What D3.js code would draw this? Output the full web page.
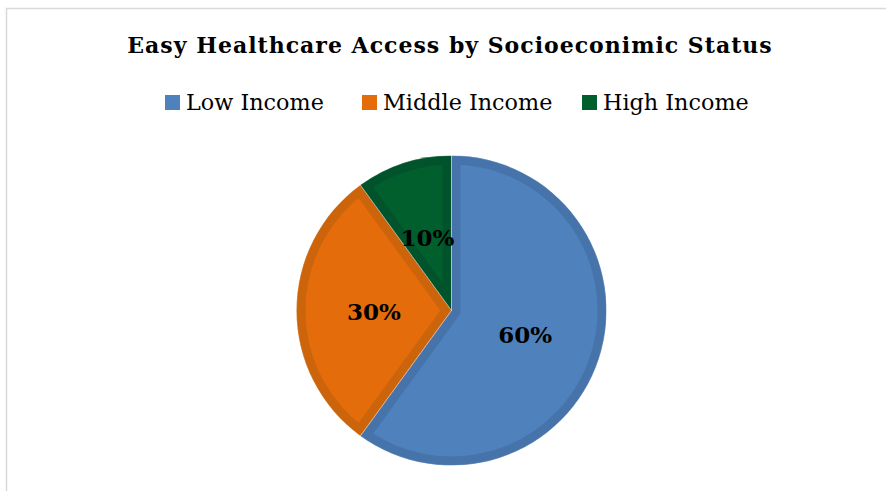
<!DOCTYPE html>
<html>
<head>
<meta charset="utf-8">
<script src="https://cdn.jsdelivr.net/npm/d3@7/dist/d3.min.js"></script>
<style>
  body { margin: 0; background: #fff; }
  svg { display: block; }
  .title { font-family: "DejaVu Serif", serif; font-weight: bold; font-size: 22px; letter-spacing: 1px; }
  .legend text { font-family: "DejaVu Serif", serif; font-size: 22.3px; }
  .label { font-family: "DejaVu Serif", serif; font-weight: bold; font-size: 23px; }
</style>
</head>
<body>
<div class="wrapper"></div>
<script>
var categories = ["Low Income", "Middle Income", "High Income"];
var values = [60, 30, 10];
var labels = ["60%", "30%", "10%"];
var fills = ["#4f81bd", "#e46c0a", "#005f2d"];
var borders = ["#4673aa", "#cc640c", "#00532a"];

var WIDTH = 886,
	HEIGHT = 491,
	CX = 451.5,
	CY = 310.5,
	RADIUS = 155,
	BORDER = 9;

var svg = d3.select(".wrapper")
	.append("svg")
		.attr("width", WIDTH)
		.attr("height", HEIGHT);

// chart area frame
svg.append("path")
	.attr("d", "M6.5," + HEIGHT + "V8.5H" + WIDTH)
	.attr("fill", "none")
	.attr("stroke", "#d9d9d9")
	.attr("stroke-width", 1.5);

svg.append("text")
	.attr("class", "title")
	.attr("x", 450)
	.attr("y", 52.5)
	.attr("text-anchor", "middle")
	.text("Easy Healthcare Access by Socioeconimic Status");

// legend
var legendX = [165, 362, 582];
var legend = svg.append("g").attr("class", "legend")
	.selectAll("g")
	.data(categories)
	.enter()
	.append("g")
		.attr("transform", function(d, i) {return "translate(" + legendX[i] + ",95)";});

legend.append("rect")
	.attr("width", 15)
	.attr("height", 15)
	.attr("fill", function(d, i) {return fills[i];});

legend.append("text")
	.attr("x", 21)
	.attr("y", 15)
	.text(function(d) {return d;});

// pie
var pie = d3.pie().sort(null).value(function(d) {return d;});
var arcs = pie(values);

var arc = d3.arc().innerRadius(0).outerRadius(RADIUS);

var g = svg.append("g")
	.attr("transform", "translate(" + CX + "," + CY + ")");

var defs = svg.append("defs");
defs.selectAll("clipPath")
	.data(arcs)
	.enter()
	.append("clipPath")
		.attr("id", function(d, i) {return "slice-" + i;})
	.append("path")
		.attr("d", arc);

g.selectAll(".slice")
	.data(arcs)
	.enter()
	.append("path")
		.attr("class", "slice")
		.attr("d", arc)
		.attr("fill", function(d, i) {return fills[i];})
		.attr("stroke", function(d, i) {return borders[i];})
		.attr("stroke-width", BORDER * 2)
		.attr("stroke-linejoin", "miter")
		.attr("clip-path", function(d, i) {return "url(#slice-" + i + ")";});

// thin light seam between slices
g.selectAll(".seam")
	.data(arcs)
	.enter()
	.append("path")
		.attr("class", "seam")
		.attr("d", arc)
		.attr("fill", "none")
		.attr("stroke", "#ffffff")
		.attr("stroke-opacity", 0.35)
		.attr("stroke-width", 0.8);

g.selectAll(".label")
	.data(arcs)
	.enter()
	.append("text")
		.attr("class", "label")
		.attr("transform", function(d) {
			var c = arc.centroid(d);
			return "translate(" + c[0] + "," + (c[1] + 9) + ")";
		})
		.attr("text-anchor", "middle")
		.text(function(d, i) {return labels[i];});
</script>
</body>
</html>
